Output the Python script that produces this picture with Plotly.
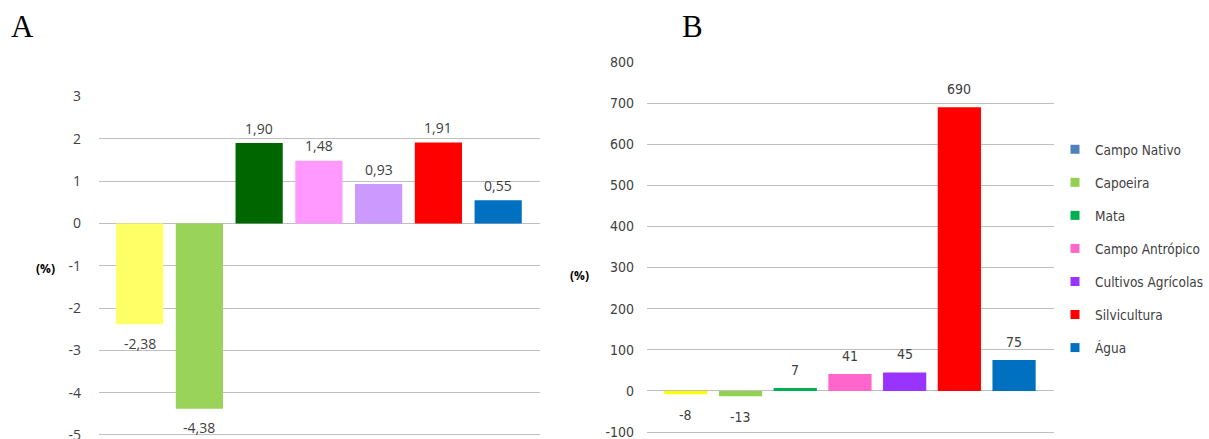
import plotly.graph_objects as go

categories = ["Campo Nativo", "Capoeira", "Mata", "Campo Antrópico",
              "Cultivos Agrícolas", "Silvicultura", "Água"]

values_a = [-2.38, -4.38, 1.90, 1.48, 0.93, 1.91, 0.55]
values_b = [-8, -13, 7, 41, 45, 690, 75]

colors_a = ["#FFFF66", "#99D35A", "#006600", "#FF99FF", "#CC99FF", "#FF0000", "#0070C0"]
colors_b = ["#FFFF00", "#92D050", "#00B050", "#FF66CC", "#9933FF", "#FF0000", "#0070C0"]
legend_colors = ["#4F81BD", "#92D050", "#00B050", "#FF66CC", "#9933FF", "#FF0000", "#0070C0"]

ticks_a = [3, 2, 1, 0, -1, -2, -3, -4, -5]
ticks_b = [800, 700, 600, 500, 400, 300, 200, 100, 0, -100]

W, H = 1209, 439
GRID = "#BFBFBF"
TXT = "#404040"
NARROW = "DejaVu Sans Condensed, Liberation Sans Narrow, sans-serif"
NORMAL = "Open Sans, Lato, sans-serif"


def label_a(v):
    return f"{v:.2f}".replace(".", ",")


def label_b(v):
    return str(v)


def tick_text(v):
    return str(v)


fig = go.Figure()

fig.add_trace(go.Bar(x=categories, y=values_a, marker=dict(color=colors_a, line=dict(width=0)),
                     width=0.79, xaxis="x", yaxis="y", showlegend=False, hoverinfo="skip"))
fig.add_trace(go.Bar(x=categories, y=values_b, marker=dict(color=colors_b, line=dict(width=0)),
                     width=0.79, xaxis="x2", yaxis="y2", showlegend=False, hoverinfo="skip"))

# legend-only entries (legend colours differ from bar colours in the source)
for i, (name, col) in enumerate(zip(categories, legend_colors)):
    fig.add_trace(go.Scatter(x=[None], y=[None], name=name, mode="markers",
                             marker=dict(symbol="square", size=9, color=col),
                             xaxis="x2", yaxis="y2", legendgroup=f"g{i}", showlegend=True))

annotations = []
for c, v in zip(categories, values_a):
    annotations.append(dict(x=c, y=v, xref="x", yref="y", text=label_a(v), showarrow=False,
                            yshift=15 if v >= 0 else -19,
                            font=dict(family=NORMAL, size=14, color=TXT)))
for c, v in zip(categories, values_b):
    annotations.append(dict(x=c, y=v, xref="x2", yref="y2", text=label_b(v), showarrow=False,
                            yshift=18 if v >= 0 else -21,
                            font=dict(family=NARROW, size=14, color=TXT)))

annotations += [
    dict(x=22 / W, y=1 - 26 / H, xref="paper", yref="paper", text="A", showarrow=False,
         xanchor="center", yanchor="middle",
         font=dict(family="Liberation Serif, serif", size=31, color="black")),
    dict(x=692 / W, y=1 - 26 / H, xref="paper", yref="paper", text="B", showarrow=False,
         xanchor="center", yanchor="middle",
         font=dict(family="Liberation Serif, serif", size=31, color="black")),
    dict(x=45 / W, y=1 - 268 / H, xref="paper", yref="paper", text="<b>(%)</b>", showarrow=False,
         xanchor="center", yanchor="middle",
         font=dict(family=NORMAL, size=12, color="black")),
    dict(x=579 / W, y=1 - 275 / H, xref="paper", yref="paper", text="<b>(%)</b>", showarrow=False,
         xanchor="center", yanchor="middle",
         font=dict(family=NORMAL, size=12, color="black")),
]

# pixel scale: panel A 42.25 px per unit, panel B 0.412 px per unit
fig.update_layout(
    width=W, height=H,
    margin=dict(l=0, r=0, t=0, b=0, autoexpand=False),
    paper_bgcolor="white", plot_bgcolor="white",
    xaxis=dict(domain=[99 / W, 540 / W], range=[-0.68, 6.7], showticklabels=False,
               showgrid=False, zeroline=False, showline=False, ticks=""),
    yaxis=dict(domain=[1 - 437.1 / H, 1 - 96.5 / H], range=[-5.05, 3],
               tickvals=ticks_a, ticktext=[tick_text(t) for t in ticks_a],
               showgrid=True, gridcolor=GRID, gridwidth=1, zeroline=True, zerolinecolor=GRID,
               zerolinewidth=1, showline=False, ticks="", ticklabelstandoff=17,
               ticklabeloverflow="allow",
               tickfont=dict(family=NORMAL, size=14, color=TXT)),
    xaxis2=dict(domain=[647 / W, 1054 / W], range=[-0.71, 6.73], showticklabels=False,
                showgrid=False, zeroline=False, showline=False, ticks="", anchor="y2"),
    yaxis2=dict(domain=[1 - 434.1 / H, 1 - 62 / H], range=[-105, 800], anchor="x2",
                tickvals=ticks_b, ticktext=[tick_text(t) for t in ticks_b],
                showgrid=True, gridcolor=GRID, gridwidth=1, zeroline=True, zerolinecolor=GRID,
                zerolinewidth=1, showline=False, ticks="", ticklabelstandoff=12,
                ticklabeloverflow="allow",
                tickfont=dict(family=NARROW, size=14, color=TXT)),
    legend=dict(x=1055 / W, y=1 - 134 / H, xanchor="left", yanchor="top",
                font=dict(family=NARROW, size=13.5, color=TXT), tracegroupgap=12.5,
                itemwidth=30, bgcolor="rgba(0,0,0,0)"),
    annotations=annotations,
    showlegend=True,
)

fig.write_html("out.html", config={"displayModeBar": False},
               post_script="document.body.style.margin='0';")
